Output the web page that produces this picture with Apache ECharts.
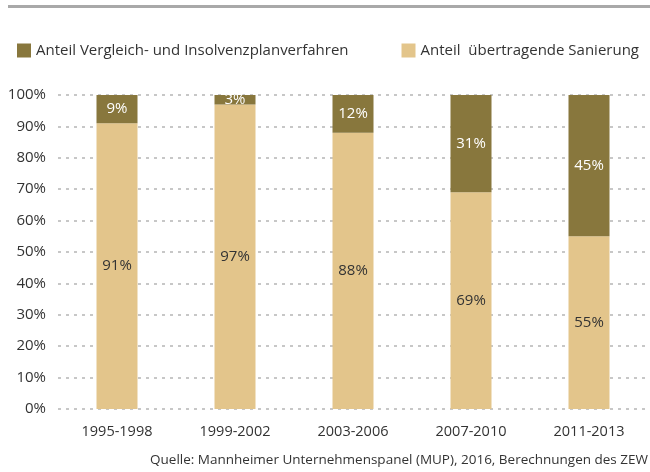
<!DOCTYPE html>
<html>
<head>
<meta charset="utf-8">
<script src="https://cdn.jsdelivr.net/npm/echarts@6/dist/echarts.min.js"></script>
<style>
  html, body { margin: 0; padding: 0; background: #fff; }
  #chart { width: 650px; height: 472px; }
</style>
</head>
<body>
<div id="chart"></div>
<script>
// Daten
var categories = ['1995-1998', '1999-2002', '2003-2006', '2007-2010', '2011-2013'];
var anteilVergleich = [9, 3, 12, 31, 45];
var anteilSanierung = [91, 97, 88, 69, 55];
var yTicks = [0, 10, 20, 30, 40, 50, 60, 70, 80, 90, 100];

var font = 'Open Sans';
var chart = echarts.init(document.getElementById('chart'));

chart.setOption({
  animation: false,
  textStyle: { fontFamily: font },
  graphic: [
    { type: 'rect', shape: { x: 8, y: 5, width: 642, height: 3 }, style: { fill: '#a9a9a9' } },
    { type: 'text', right: 2, top: 453,
      style: { text: 'Quelle: Mannheimer Unternehmenspanel (MUP), 2016, Berechnungen des ZEW',
               fill: '#333', font: '13.5px "Open Sans"' } }
  ],
  legend: {
    data: [
      { name: 'Anteil Vergleich- und Insolvenzplanverfahren' },
      { name: 'Anteil  übertragende Sanierung' }
    ],
    left: 12, top: 38,
    itemWidth: 14, itemHeight: 14, itemGap: 53,
    icon: 'rect',
    textStyle: { fontSize: 15, color: '#333', fontFamily: font }
  },
  grid: { left: 58, right: 2, top: 95, bottom: 63 },
  xAxis: {
    type: 'category',
    data: categories,
    axisLine: { show: false },
    axisTick: { show: false },
    axisLabel: { fontSize: 14.5, color: '#333', margin: 15 }
  },
  yAxis: {
    type: 'value',
    min: 0, max: 100, interval: 10,
    axisLabel: {
      fontSize: 15, color: '#333', margin: 12,
      formatter: function (v) { return yTicks.indexOf(v) >= 0 ? v + '%' : ''; }
    },
    axisLine: { show: false },
    axisTick: { show: false },
    splitLine: { lineStyle: { color: '#b5b5b5', type: [3, 5], width: 1.5 } }
  },
  series: [
    {
      name: 'Anteil  übertragende Sanierung',
      type: 'bar', stack: 'a', barWidth: 41,
      data: anteilSanierung,
      itemStyle: { color: '#e3c58b' },
      label: { show: true, position: 'inside', formatter: '{c}%', fontSize: 15, color: '#333' }
    },
    {
      name: 'Anteil Vergleich- und Insolvenzplanverfahren',
      type: 'bar', stack: 'a', barWidth: 41,
      data: anteilVergleich,
      itemStyle: { color: '#88773d' },
      label: { show: true, position: 'inside', formatter: '{c}%', fontSize: 15, color: '#fff' }
    }
  ]
});
</script>
</body>
</html>
